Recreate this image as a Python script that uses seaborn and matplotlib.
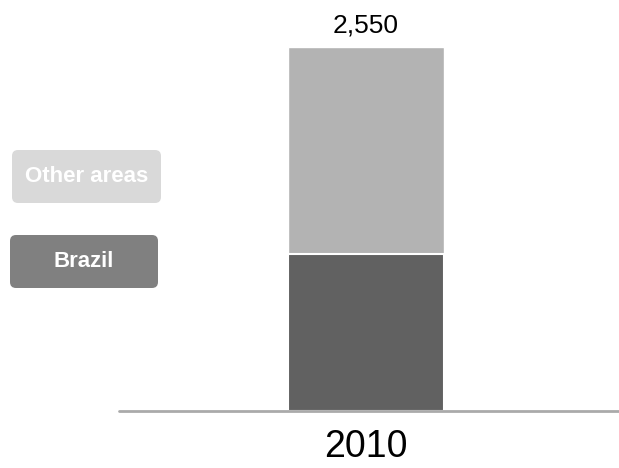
import matplotlib
matplotlib.use("Agg")
import matplotlib.pyplot as plt
from matplotlib.patches import FancyBboxPatch
import seaborn as sns

sns.set_style("white")
plt.rcParams["font.family"] = ["Liberation Sans", "DejaVu Sans"]

# data
years = ["2010"]
brazil = [1100]
other_areas = [1450]
total = [b + o for b, o in zip(brazil, other_areas)]

bar_colors = {"Brazil": "#616161", "Other areas": "#b3b3b3"}
legend_colors = {"Brazil": "#808080", "Other areas": "#d9d9d9"}

fig = plt.figure(figsize=(6.19, 4.68), dpi=100)
ax = fig.add_axes([119 / 619, 1 - 411 / 468, 1 - 119 / 619, 411 / 468])

# stacked: total bar behind, Brazil bar in front
sns.barplot(x=years, y=total, color=bar_colors["Other areas"], saturation=1,
            width=0.312, ax=ax, zorder=1)
sns.barplot(x=years, y=brazil, color=bar_colors["Brazil"], saturation=1,
            width=0.312, ax=ax, edgecolor="white", linewidth=1.5, zorder=2)

ax.bar_label(ax.containers[0], labels=[f"{v:,}" for v in total],
             padding=7, fontsize=19, color="black")

ax.set_xlim(-0.494, 0.506)
ax.set_ylim(0, total[0] * 411 / 364)
ax.axhline(0, color="#aaaaaa", linewidth=2, zorder=5, clip_on=False)

for s in ax.spines.values():
    s.set_visible(False)
ax.set_yticks([])
ax.set_xlabel("")
ax.set_ylabel("")
ax.tick_params(axis="x", length=0, labelsize=27, pad=13, labelcolor="black")

# legend drawn as rounded boxes (inches from bottom-left)
boxes = {"Other areas": (0.12, 2.65, 1.49, 0.53),
         "Brazil": (0.10, 1.80, 1.48, 0.53)}
for name, (x0, y0, w, h) in boxes.items():
    p = FancyBboxPatch((x0, y0), w, h, boxstyle="round,pad=0,rounding_size=0.06",
                       transform=fig.dpi_scale_trans, facecolor=legend_colors[name],
                       edgecolor="none")
    fig.patches.append(p)
    fig.text(x0 + w / 2, y0 + h / 2, name, transform=fig.dpi_scale_trans,
             ha="center", va="center", color="white", fontsize=16,
             fontweight="bold")

fig.savefig("out.png", dpi=100)
